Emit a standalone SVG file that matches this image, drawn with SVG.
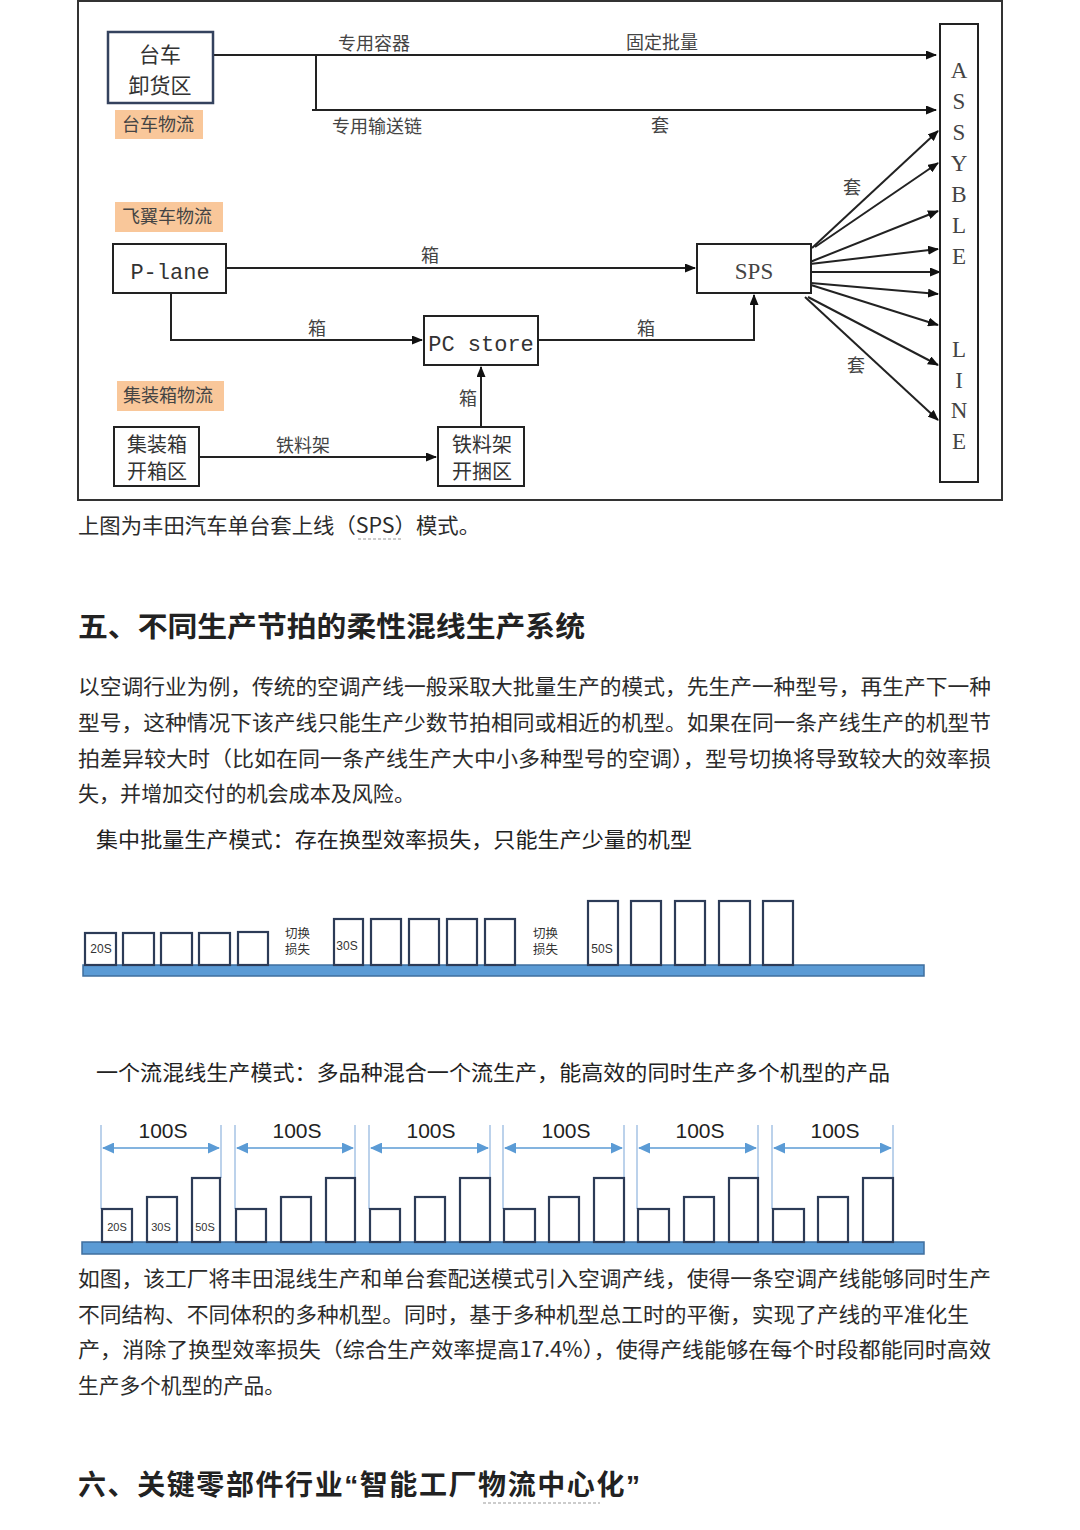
<svg xmlns="http://www.w3.org/2000/svg" width="1080" height="1530" viewBox="0 0 1080 1530">
<style>
.bg{fill:#ffffff}
.frame{fill:none;stroke:#333;stroke-width:2}
.box{fill:#fff;stroke:#222;stroke-width:2}
.box2{fill:#fff;stroke:#34425e;stroke-width:2.5}
.tag{fill:#f9c79a}
.lbl{font-family:"Noto Sans CJK SC",sans-serif;font-size:18px;fill:#444}
.node{font-family:"Noto Sans CJK SC",sans-serif;font-size:20px;fill:#333;text-anchor:middle}
.tagt{font-family:"Noto Sans CJK SC",sans-serif;font-size:18px;fill:#444}
.ser{font-family:"Liberation Serif",serif;font-size:23px;fill:#444;text-anchor:middle}
.mono{font-family:"Liberation Mono",monospace;font-size:22px;fill:#333;text-anchor:middle}
.ln{fill:none;stroke:#222;stroke-width:2}
.body{font-family:"Noto Sans CJK SC",sans-serif;font-size:21px;fill:#2b2b2b}
.h{font-family:"Noto Sans CJK SC",sans-serif;font-size:28px;font-weight:bold;fill:#222}
.sub{font-family:"Noto Sans CJK SC",sans-serif;font-size:21px;fill:#222}
.cb{fill:#fff;stroke:#2c3b57;stroke-width:2.2}
.bar{fill:#5b9bd5;stroke:#3f6f9e;stroke-width:1.5}
.sm{font-family:"Liberation Sans",sans-serif;font-size:12px;fill:#333;text-anchor:middle}
.smc{font-family:"Noto Sans CJK SC",sans-serif;font-size:12.5px;fill:#333}
.guide{stroke:#8fb4de;stroke-width:1.2}
.dim{stroke:#5b9bd5;stroke-width:1.5}
.per{font-family:"Liberation Sans",sans-serif;font-size:21px;fill:#222;text-anchor:middle}
.dash{stroke:#999;stroke-width:1;stroke-dasharray:3 2}
</style>
<defs>
<marker id="ah" markerUnits="userSpaceOnUse" markerWidth="11" markerHeight="9" refX="10" refY="4.5" orient="auto">
<path d="M0,0 L11,4.5 L0,9 z" fill="#111"/>
</marker>
<marker id="ba" markerUnits="userSpaceOnUse" markerWidth="12" markerHeight="11" refX="11" refY="5.5" orient="auto-start-reverse">
<path d="M0,0 L12,5.5 L0,11 z" fill="#5b9bd5"/>
</marker>
</defs>
<rect class="bg" x="0" y="0" width="1080" height="1530"/>

<rect class="frame" x="78" y="1" width="924" height="499"/>

<g id="connectors">
<path class="ln" d="M213,55 L936,55" marker-end="url(#ah)"/>
<path class="ln" d="M316,55 L316,110 M312,110 L936,110" marker-end="url(#ah)"/>
<path class="ln" d="M226,268 L695,268" marker-end="url(#ah)"/>
<path class="ln" d="M171,293 L171,340 L422,340" marker-end="url(#ah)"/>
<path class="ln" d="M538,340 L754,340 L754,295" marker-end="url(#ah)"/>
<path class="ln" d="M199,457 L436,457" marker-end="url(#ah)"/>
<path class="ln" d="M481,427 L481,367" marker-end="url(#ah)"/>
<path class="ln" d="M812,248 L938,131" marker-end="url(#ah)"/>
<path class="ln" d="M815,247 L938,163" marker-end="url(#ah)"/>
<path class="ln" d="M810,262 L938,211" marker-end="url(#ah)"/>
<path class="ln" d="M810,264 L938,249" marker-end="url(#ah)"/>
<path class="ln" d="M811,272 L940,272" marker-end="url(#ah)"/>
<path class="ln" d="M811,283 L938,294" marker-end="url(#ah)"/>
<path class="ln" d="M811,285 L938,325" marker-end="url(#ah)"/>
<path class="ln" d="M808,297 L938,365" marker-end="url(#ah)"/>
<path class="ln" d="M805,297 L938,420" marker-end="url(#ah)"/>
<text class="lbl" x="338" y="50">专用容器</text>
<text class="lbl" x="626" y="49">固定批量</text>
<text class="lbl" x="332" y="133">专用输送链</text>
<text class="lbl" x="651" y="132">套</text>
<text class="lbl" x="843" y="194">套</text>
<text class="lbl" x="847" y="372">套</text>
<text class="lbl" x="421" y="262">箱</text>
<text class="lbl" x="308" y="335">箱</text>
<text class="lbl" x="637" y="335">箱</text>
<text class="lbl" x="459" y="405">箱</text>
<text class="lbl" x="276" y="452">铁料架</text>
</g>

<g id="n-taiche">
<rect class="box2" x="108" y="32" width="105" height="71"/>
<text class="node" x="160" y="62" style="font-size:21px">台车</text>
<text class="node" x="160" y="93" style="font-size:21px">卸货区</text>
</g>
<g id="tag-taiche">
<rect class="tag" x="115" y="110" width="88" height="29"/>
<text class="tagt" x="122" y="131">台车物流</text>
</g>
<g id="tag-feiyi">
<rect class="tag" x="115" y="202" width="108" height="30"/>
<text class="tagt" x="122" y="223">飞翼车物流</text>
</g>
<g id="n-plane">
<rect class="box" x="113" y="244" width="113" height="49"/>
<text class="mono" x="170" y="279">P-lane</text>
</g>
<g id="n-sps">
<rect class="box" x="697" y="244" width="114" height="49"/>
<text class="ser" x="754" y="279">SPS</text>
</g>
<g id="n-pcstore">
<rect class="box" x="424" y="316" width="114" height="49"/>
<text class="mono" x="481" y="351">PC store</text>
</g>
<g id="tag-jzx">
<rect class="tag" x="117" y="381" width="107" height="30"/>
<text class="tagt" x="123" y="402">集装箱物流</text>
</g>
<g id="n-jzx">
<rect class="box" x="114" y="427" width="85" height="59"/>
<text class="node" x="157" y="452">集装箱</text>
<text class="node" x="157" y="479">开箱区</text>
</g>
<g id="n-tlj">
<rect class="box" x="438" y="427" width="86" height="59"/>
<text class="node" x="482" y="452">铁料架</text>
<text class="node" x="482" y="479">开捆区</text>
</g>
<g id="n-line">
<rect class="box" x="940" y="24" width="38" height="458"/>
<text class="ser" x="959" y="78">A</text>
<text class="ser" x="959" y="109">S</text>
<text class="ser" x="959" y="140">S</text>
<text class="ser" x="959" y="171">Y</text>
<text class="ser" x="959" y="202">B</text>
<text class="ser" x="959" y="233">L</text>
<text class="ser" x="959" y="264">E</text>
<text class="ser" x="959" y="357">L</text>
<text class="ser" x="959" y="388">I</text>
<text class="ser" x="959" y="418">N</text>
<text class="ser" x="959" y="449">E</text>
</g>

<text class="body" x="78" y="533" textLength="402" lengthAdjust="spacingAndGlyphs">上图为丰田汽车单台套上线（SPS）模式。</text>
<line class="dash" x1="358" y1="539" x2="403" y2="539"/>

<text class="h" x="78" y="637" textLength="507" lengthAdjust="spacingAndGlyphs">五、不同生产节拍的柔性混线生产系统</text>

<text class="body" x="78" y="694" textLength="913" lengthAdjust="spacingAndGlyphs">以空调行业为例，传统的空调产线一般采取大批量生产的模式，先生产一种型号，再生产下一种</text>
<text class="body" x="78" y="730" textLength="913" lengthAdjust="spacingAndGlyphs">型号，这种情况下该产线只能生产少数节拍相同或相近的机型。如果在同一条产线生产的机型节</text>
<text class="body" x="78" y="766" textLength="913" lengthAdjust="spacingAndGlyphs">拍差异较大时（比如在同一条产线生产大中小多种型号的空调），型号切换将导致较大的效率损</text>
<text class="body" x="78" y="801" textLength="337" lengthAdjust="spacingAndGlyphs">失，并增加交付的机会成本及风险。</text>

<text class="sub" x="96" y="847" textLength="596" lengthAdjust="spacingAndGlyphs">集中批量生产模式：存在换型效率损失，只能生产少量的机型</text>

<g id="chart1">
<rect class="bar" x="83" y="965" width="841" height="11"/>
<rect class="cb" x="85" y="933" width="31" height="32"/>
<rect class="cb" x="123" y="933" width="31" height="32"/>
<rect class="cb" x="161" y="933" width="31" height="32"/>
<rect class="cb" x="199" y="933" width="31" height="32"/>
<rect class="cb" x="238" y="932" width="30" height="33"/>
<text class="sm" x="101" y="953">20S</text>
<text class="smc" x="285" y="938">切换</text>
<text class="smc" x="285" y="954">损失</text>
<rect class="cb" x="334" y="919" width="29" height="46"/>
<rect class="cb" x="371" y="919" width="30" height="46"/>
<rect class="cb" x="409" y="919" width="30" height="46"/>
<rect class="cb" x="447" y="919" width="30" height="46"/>
<rect class="cb" x="485" y="919" width="30" height="46"/>
<text class="sm" x="347" y="950">30S</text>
<text class="smc" x="533" y="938">切换</text>
<text class="smc" x="533" y="954">损失</text>
<rect class="cb" x="588" y="901" width="30" height="64"/>
<rect class="cb" x="631" y="901" width="30" height="64"/>
<rect class="cb" x="675" y="901" width="30" height="64"/>
<rect class="cb" x="719" y="901" width="31" height="64"/>
<rect class="cb" x="763" y="901" width="30" height="64"/>
<text class="sm" x="602" y="953">50S</text>
</g>

<text class="sub" x="96" y="1080" textLength="794" lengthAdjust="spacingAndGlyphs">一个流混线生产模式：多品种混合一个流生产，能高效的同时生产多个机型的产品</text>

<g id="chart2">
<g id="g1">
<line class="guide" x1="101" y1="1125" x2="101" y2="1209"/>
<line class="guide" x1="221" y1="1125" x2="221" y2="1178"/>
<line class="dim" x1="103" y1="1148" x2="219" y2="1148" marker-start="url(#ba)" marker-end="url(#ba)"/>
<text class="per" x="163" y="1138">100S</text>
</g>
<g id="g2">
<line class="guide" x1="235" y1="1125" x2="235" y2="1209"/>
<line class="guide" x1="355" y1="1125" x2="355" y2="1178"/>
<line class="dim" x1="237" y1="1148" x2="353" y2="1148" marker-start="url(#ba)" marker-end="url(#ba)"/>
<text class="per" x="297" y="1138">100S</text>
</g>
<g id="g3">
<line class="guide" x1="369" y1="1125" x2="369" y2="1209"/>
<line class="guide" x1="490" y1="1125" x2="490" y2="1178"/>
<line class="dim" x1="371" y1="1148" x2="488" y2="1148" marker-start="url(#ba)" marker-end="url(#ba)"/>
<text class="per" x="431" y="1138">100S</text>
</g>
<g id="g4">
<line class="guide" x1="503" y1="1125" x2="503" y2="1209"/>
<line class="guide" x1="624" y1="1125" x2="624" y2="1178"/>
<line class="dim" x1="505" y1="1148" x2="622" y2="1148" marker-start="url(#ba)" marker-end="url(#ba)"/>
<text class="per" x="566" y="1138">100S</text>
</g>
<g id="g5">
<line class="guide" x1="637" y1="1125" x2="637" y2="1209"/>
<line class="guide" x1="758" y1="1125" x2="758" y2="1178"/>
<line class="dim" x1="639" y1="1148" x2="756" y2="1148" marker-start="url(#ba)" marker-end="url(#ba)"/>
<text class="per" x="700" y="1138">100S</text>
</g>
<g id="g6">
<line class="guide" x1="772" y1="1125" x2="772" y2="1209"/>
<line class="guide" x1="893" y1="1125" x2="893" y2="1178"/>
<line class="dim" x1="774" y1="1148" x2="891" y2="1148" marker-start="url(#ba)" marker-end="url(#ba)"/>
<text class="per" x="835" y="1138">100S</text>
</g>
<rect class="bar" x="82" y="1242" width="842" height="12"/>
<rect class="cb" x="102" y="1209" width="30" height="33"/>
<rect class="cb" x="147" y="1197" width="30" height="45"/>
<rect class="cb" x="192" y="1178" width="28" height="64"/>
<rect class="cb" x="236" y="1209" width="30" height="33"/>
<rect class="cb" x="281" y="1197" width="30" height="45"/>
<rect class="cb" x="326" y="1178" width="29" height="64"/>
<rect class="cb" x="370" y="1209" width="30" height="33"/>
<rect class="cb" x="415" y="1197" width="30" height="45"/>
<rect class="cb" x="460" y="1178" width="30" height="64"/>
<rect class="cb" x="504" y="1209" width="31" height="33"/>
<rect class="cb" x="549" y="1197" width="30" height="45"/>
<rect class="cb" x="594" y="1178" width="30" height="64"/>
<rect class="cb" x="638" y="1209" width="31" height="33"/>
<rect class="cb" x="684" y="1197" width="30" height="45"/>
<rect class="cb" x="729" y="1178" width="29" height="64"/>
<rect class="cb" x="773" y="1209" width="31" height="33"/>
<rect class="cb" x="818" y="1197" width="30" height="45"/>
<rect class="cb" x="863" y="1178" width="30" height="64"/>
<text class="sm" x="117" y="1231" style="font-size:11px">20S</text>
<text class="sm" x="161" y="1231" style="font-size:11px">30S</text>
<text class="sm" x="205" y="1231" style="font-size:11px">50S</text>
</g>

<text class="body" x="78" y="1286" textLength="913" lengthAdjust="spacingAndGlyphs">如图，该工厂将丰田混线生产和单台套配送模式引入空调产线，使得一条空调产线能够同时生产</text>
<text class="body" x="78" y="1322" textLength="891" lengthAdjust="spacingAndGlyphs">不同结构、不同体积的多种机型。同时，基于多种机型总工时的平衡，实现了产线的平准化生</text>
<text class="body" x="78" y="1357" textLength="913" lengthAdjust="spacingAndGlyphs">产，消除了换型效率损失（综合生产效率提高17.4%），使得产线能够在每个时段都能同时高效</text>
<text class="body" x="78" y="1393" textLength="207" lengthAdjust="spacingAndGlyphs">生产多个机型的产品。</text>

<text class="h" x="78" y="1495" textLength="562" lengthAdjust="spacing">六、关键零部件行业<tspan style="font-family:'Liberation Sans',sans-serif">“</tspan>智能工厂物流中心化<tspan style="font-family:'Liberation Sans',sans-serif">”</tspan></text>
<line class="dash" x1="483" y1="1503" x2="600" y2="1503"/>
</svg>
